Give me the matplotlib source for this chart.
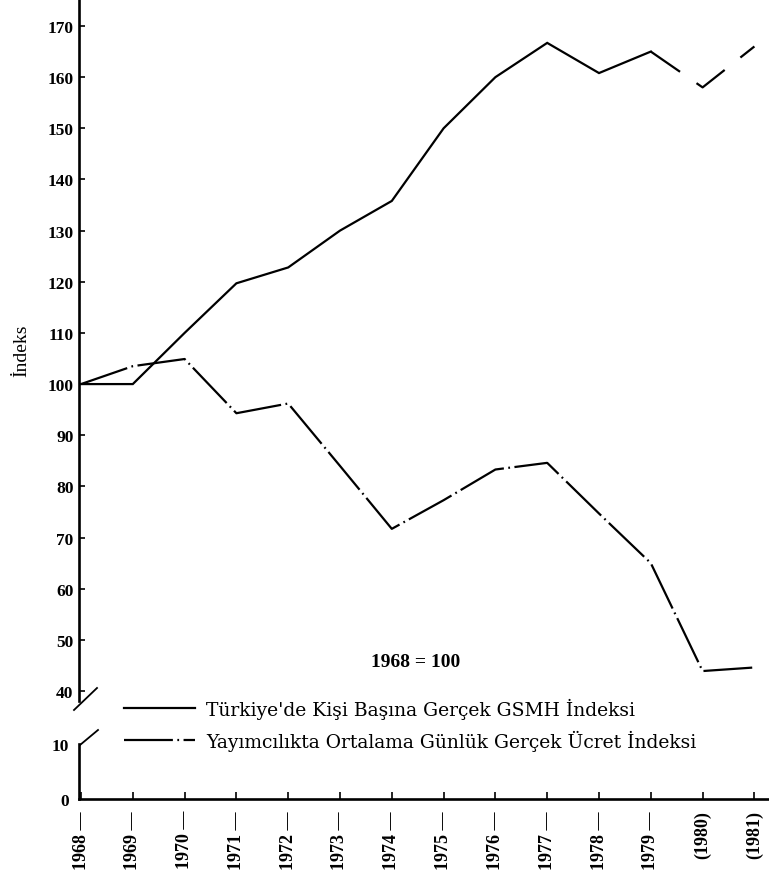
"""
Türkiye: kişi başına gerçek GSMH ve yayımcılıkta gerçek ücret indeksi (1968 = 100)
"""

import matplotlib
matplotlib.use("Agg")
import matplotlib.pyplot as plt
from matplotlib.lines import Line2D

# Data
YEARS = [1968, 1969, 1970, 1971, 1972, 1973, 1974, 1975, 1976, 1977, 1978, 1979, 1980, 1981]
GSMH = [100, 100, 110, 119.7, 122.8, 130, 135.8, 150, 160, 166.7, 160.8, 165, 158, 166]
WAGE = [100, 103.5, 104.9, 94.3, 96.2, 84, 71.7, 77.3, 83.3, 84.6, 74.7, 65, 43.9, 44.6]
N_FIRM = 12  # GSMH drawn solid up to 1979, dashed for (1980), (1981)

TICK_LABELS = ['1968 —', '1969 —', '1970 —', '1971 —', '1972 —', '1973 —', '1974 —',
               '1975 —', '1976 —', '1977 —', '1978 —', '1979 —', '(1980)', '(1981)']
UPPER_TICKS = list(range(40, 171, 10))
LOWER_TICKS = [0, 10]
LEGEND_LABELS = ["Türkiye'de Kişi Başına Gerçek GSMH İndeksi",
                 "Yayımcılıkta Ortalama Günlük Gerçek Ücret İndeksi"]
NOTE = "1968 = 100"

W, H = 769, 879
SERIF = ['Liberation Serif', 'DejaVu Serif']
WIDE_SERIF = ['DejaVu Serif']
plt.rcParams['font.family'] = SERIF


def fx(px):
    return px / W


def fy(py):
    return 1 - py / H


PX_PER_YEAR = 51.8
X0 = 79
xlim = (1968 - 2 / PX_PER_YEAR, 1968 + (W - X0 - 2) / PX_PER_YEAR)

fig = plt.figure(figsize=(W / 100, H / 100), dpi=100)

# upper part of the broken axis (40 .. 170)
ax = fig.add_axes([fx(X0), fy(702), fx(W) - fx(X0), fy(0) - fy(702)])
px_per_unit = (692 - 27) / 130
ax.set_ylim(40 - (702 - 692) / px_per_unit, 170 + 27 / px_per_unit)
ax.set_xlim(*xlim)

# lower part (0 .. 10)
ax2 = fig.add_axes([fx(X0), fy(800), fx(W) - fx(X0), fy(745) - fy(800)])
ax2.set_ylim(0, 10)
ax2.set_xlim(*xlim)

lw = 1.6
ax.plot(YEARS[:N_FIRM], GSMH[:N_FIRM], color='black', lw=lw, solid_joinstyle='miter')
ax.plot(YEARS[N_FIRM - 1:], GSMH[N_FIRM - 1:], color='black', lw=lw, dashes=(16, 9))
ax.plot(YEARS, WAGE, color='black', lw=lw, dashes=(22, 2, 0.8, 2))

for a in (ax, ax2):
    a.spines['top'].set_visible(False)
    a.spines['right'].set_visible(False)
    a.spines['left'].set_linewidth(1.9)
    a.patch.set_alpha(0)

ax.spines['bottom'].set_visible(False)
ax.set_xticks([])
ax.set_yticks(UPPER_TICKS)
ax.tick_params(axis='y', direction='in', length=4, width=1.2, pad=4, labelsize=12.5)
for t in ax.get_yticklabels():
    t.set_fontweight('bold')

ax2.spines['bottom'].set_linewidth(1.9)
ax2.set_yticks(LOWER_TICKS)
ax2.tick_params(axis='y', direction='in', length=0, pad=7, labelsize=12.5)
for t in ax2.get_yticklabels():
    t.set_fontweight('bold')
ax2.set_xticks(YEARS)
ax2.set_xticklabels(TICK_LABELS, rotation=90, fontsize=13, fontweight='bold')
ax2.tick_params(axis='x', direction='in', length=5, width=1.2, pad=8)

ax.set_ylabel('İndeks', fontsize=14, labelpad=12)

# axis break marks
for (x1, y1), (x2, y2) in [((74, 711), (97, 689)), ((80, 746), (98, 731))]:
    fig.add_artist(Line2D([fx(x1), fx(x2)], [fy(y1), fy(y2)], color='black', lw=1.3))

ax.text((416 - X0) / (W - X0), 0.05, NOTE, transform=ax.transAxes, ha='center',
        fontsize=14, fontweight='bold')

handles = [Line2D([], [], color='black', lw=lw),
           Line2D([], [], color='black', lw=lw, dashes=(22, 2, 0.8, 2))]
fig.legend(handles, LEGEND_LABELS, loc='upper left', bbox_to_anchor=(fx(116), fy(691)),
           frameon=False, prop={'family': WIDE_SERIF, 'size': 13.5}, handlelength=3.8,
           handletextpad=0.6, labelspacing=0.6, borderaxespad=0)

fig.savefig('out.png', dpi=100)
